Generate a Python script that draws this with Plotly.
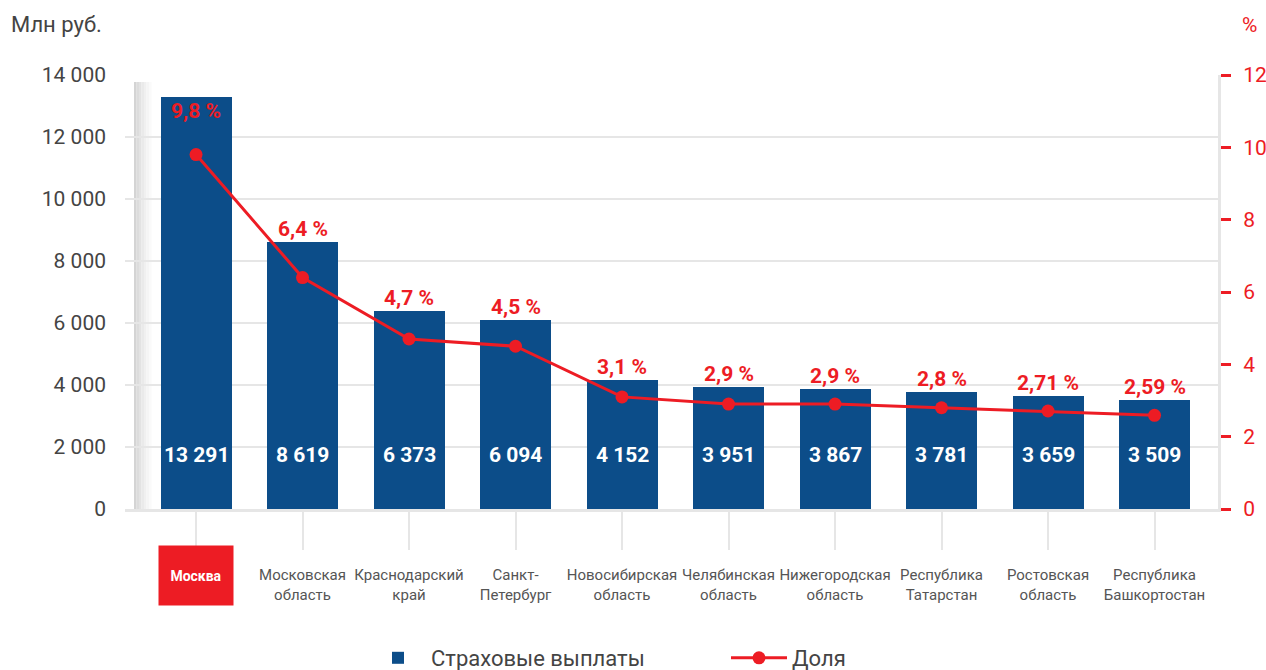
import plotly.graph_objects as go

categories = ["Москва", "Московская<br>область", "Краснодарский<br>край", "Санкт-<br>Петербург",
              "Новосибирская<br>область", "Челябинская<br>область", "Нижегородская<br>область",
              "Республика<br>Татарстан", "Ростовская<br>область", "Республика<br>Башкортостан"]
payments = [13291, 8619, 6373, 6094, 4152, 3951, 3867, 3781, 3659, 3509]
share = [9.8, 6.4, 4.7, 4.5, 3.1, 2.9, 2.9, 2.8, 2.71, 2.59]
share_labels = ["9,8 %", "6,4 %", "4,7 %", "4,5 %", "3,1 %", "2,9 %", "2,9 %", "2,8 %", "2,71 %", "2,59 %"]
left_ticks = [0, 2000, 4000, 6000, 8000, 10000, 12000, 14000]
right_ticks = [0, 2, 4, 6, 8, 10, 12]

BLUE = "#0c4d89"
RED = "#ed1c24"
GRID = "#e6e6e6"
FONT = "Roboto"

W, H = 1266, 670
L, R, T, B = 125, 48, 75, 161
PW, PH = W - L - R, H - T - B

x = list(range(len(categories)))


def fmt(v):
    return f"{v:,}".replace(",", " ")


def px_x(p):
    return (p - L) / PW


def px_y(p):
    return (H - B - p) / PH


fig = go.Figure()
fig.add_trace(go.Bar(x=x, y=payments, width=0.667, marker=dict(color=BLUE, line=dict(width=0)),
                     name="Страховые выплаты", yaxis="y", hoverinfo="skip"))
fig.add_trace(go.Scatter(x=x, y=share, mode="lines+markers", name="Доля", yaxis="y2",
                         line=dict(color=RED, width=3), marker=dict(color=RED, size=13)))

annotations = []
for i, v in enumerate(payments):
    annotations.append(dict(x=i, y=1742, xref="x", yref="y", text=f"<b>{fmt(v)}</b>", showarrow=False,
                            font=dict(family=FONT, size=21, color="white")))
    annotations.append(dict(x=i, y=v, xref="x", yref="y", text=f"<b>{share_labels[i]}</b>", showarrow=False,
                            yshift=-14 if i == 0 else 13, font=dict(family=FONT, size=21, color=RED)))

# Moscow label box
annotations.append(dict(x=0, y=px_y(575), xref="x", yref="paper", text="<b>Москва</b>", showarrow=False,
                        yanchor="middle", width=72, height=57, bgcolor=RED,
                        font=dict(family=FONT, size=14, color="white")))
annotations.append(dict(x=px_x(9), y=px_y(25), xref="paper", yref="paper", xanchor="left", yanchor="middle",
                        text="Млн руб.", showarrow=False, font=dict(family=FONT, size=22, color="#444")))
annotations.append(dict(x=px_x(1249), y=px_y(25), xref="paper", yref="paper", xanchor="center", yanchor="middle",
                        text="%", showarrow=False, font=dict(family=FONT, size=21, color=RED)))

ticktext = [""] + categories[1:]

shapes = []
shade_cols = ["#d4d4d4", "#dcdcdc", "#e3e3e3", "#eaeaea", "#f0f0f0", "#f5f5f5", "#fafafa"]
for k, c in enumerate(shade_cols):
    shapes.append(dict(type="rect", xref="paper", yref="paper", x0=px_x(134 + k * 2.5), x1=px_x(136.5 + k * 2.5),
                       y0=0, y1=px_y(82), fillcolor=c, line=dict(width=0), layer="below"))

fig.update_layout(
    width=W, height=H,
    margin=dict(l=L, r=R, t=T, b=B, autoexpand=False),
    paper_bgcolor="white", plot_bgcolor="white",
    font=dict(family=FONT, color="#444"),
    bargap=0,
    xaxis=dict(range=[-0.667, 9.596], tickmode="array", tickvals=x, ticktext=ticktext,
               ticks="outside", ticklen=38, tickwidth=2, tickcolor=GRID, ticklabelstandoff=12,
               tickfont=dict(family=FONT, size=15, color="#555"),
               showline=True, linecolor=GRID, linewidth=3, showgrid=False, zeroline=False,
               automargin=False, fixedrange=True),
    yaxis=dict(range=[0, 14000], tickvals=left_ticks,
               ticktext=[fmt(t) for t in left_ticks], ticks="", ticklabelstandoff=18,
               tickfont=dict(family=FONT, size=21, color="#444"), automargin=False,
               showgrid=True, gridcolor=GRID, gridwidth=2, zeroline=False, showline=False),
    yaxis2=dict(range=[0, 12], tickvals=right_ticks, overlaying="y", side="right",
                ticks="outside", ticklen=10, tickwidth=3, tickcolor=RED,
                ticklabelstandoff=8, automargin=False,
                tickfont=dict(family=FONT, size=21, color=RED),
                showgrid=False, zeroline=False, showline=True, linecolor=GRID, linewidth=3),
    legend=dict(orientation="h", x=px_x(365), xanchor="left", yref="container", y=(H - 637) / H,
                yanchor="top", font=dict(family=FONT, size=22, color="#444"), entrywidth=290, itemwidth=56),
    annotations=annotations,
    shapes=shapes,
)

fig.write_html("out.html", config={"displayModeBar": False},
               post_script="document.body.style.margin='0';document.body.style.overflow='hidden';")
